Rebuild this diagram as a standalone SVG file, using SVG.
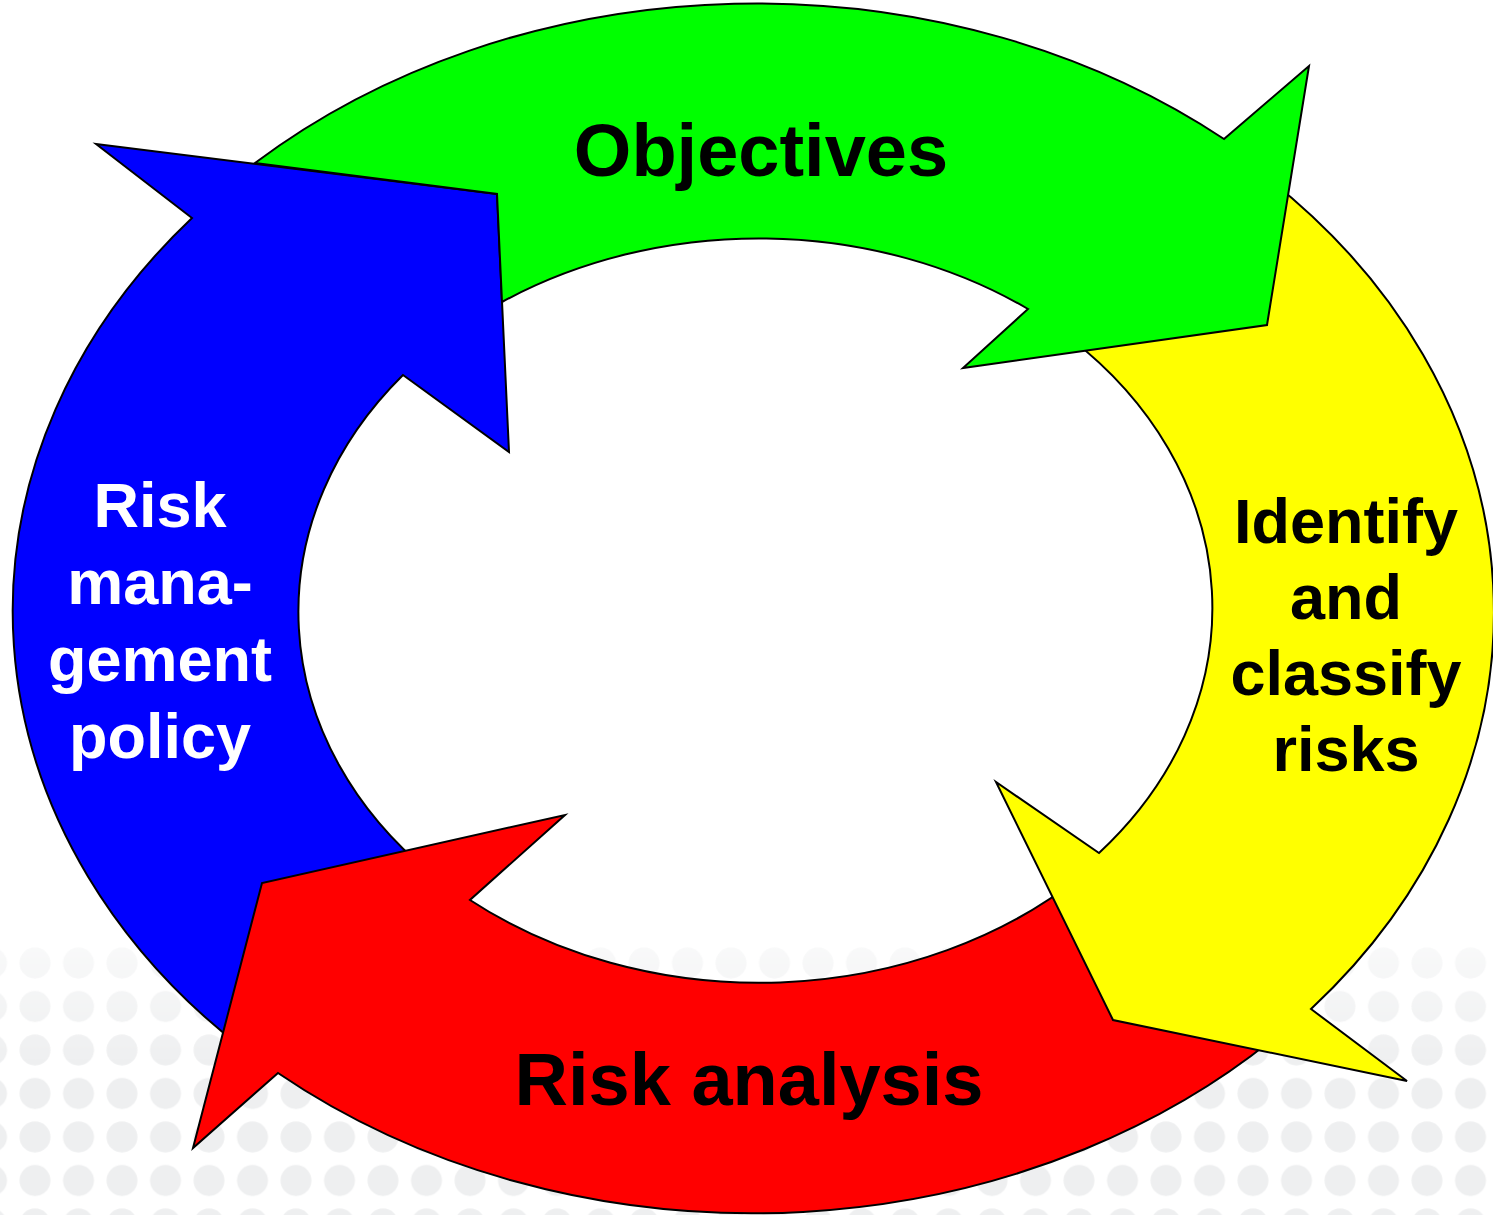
<svg xmlns="http://www.w3.org/2000/svg" width="1493" height="1215" viewBox="0 0 1493 1215">
  <defs>
    <style>
      .arrow { stroke: #000; stroke-width: 2; stroke-linejoin: miter; }
      .label { font-family: "Liberation Sans", Arial, Helvetica, sans-serif; font-weight: bold; text-anchor: middle; }
      .dark { fill: #000; }
      .light { fill: #fff; }
    </style>
    <!-- dotted backdrop along the bottom of the page -->
    <pattern id="dots" x="-30.25" y="941.25" width="43.5" height="43.5" patternUnits="userSpaceOnUse">
      <circle cx="21.75" cy="21.75" r="15.5" fill="#eeeff0"/>
    </pattern>
    <linearGradient id="fadeGrad" x1="0" y1="941" x2="0" y2="1065" gradientUnits="userSpaceOnUse">
      <stop offset="0" stop-color="#fff" stop-opacity="0.35"/>
      <stop offset="1" stop-color="#fff" stop-opacity="1"/>
    </linearGradient>
    <mask id="fade" maskUnits="userSpaceOnUse" x="0" y="941" width="1493" height="274">
      <rect x="0" y="941" width="1493" height="274" fill="url(#fadeGrad)"/>
    </mask>
  </defs>

  <rect x="0" y="0" width="1493" height="1215" fill="#fff"/>
  <rect x="0" y="941" width="1493" height="274" fill="url(#dots)" mask="url(#fade)"/>

  <!-- cycle arrows, drawn so that each head covers the tail of the next -->
  <g id="policy">
    <path class="arrow" fill="#0000ff"
          d="M 96,144 L 497,194 L 509,452 L 403,375 A 460,373 0 0 0 430,873 L 250,1054 A 740,603 0 0 1 192,218 Z"/>
    <text class="label light" font-size="63" x="160" y="527">Risk</text>
    <text class="label light" font-size="63" x="160" y="604">mana-</text>
    <text class="label light" font-size="63" x="160" y="681">gement</text>
    <text class="label light" font-size="63" x="160" y="758">policy</text>
  </g>

  <g id="analysis">
    <path class="arrow" fill="#ff0000"
          d="M 193,1148 L 262,883 L 565,815 L 470,900 A 460,373 0 0 0 1080,877 L 1300,1016 A 740,603 0 0 1 278,1073 Z"/>
    <text class="label dark" font-size="74" x="749" y="1105">Risk analysis</text>
  </g>

  <g id="identify">
    <path class="arrow" fill="#ffff00"
          d="M 1407,1081 L 1113,1020 L 996,782 L 1099,853 A 460,373 0 0 0 1070,338 L 1265,176 A 740,603 0 0 1 1311,1009 Z"/>
    <text class="label dark" font-size="63" x="1346" y="543">Identify</text>
    <text class="label dark" font-size="63" x="1346" y="619">and</text>
    <text class="label dark" font-size="63" x="1346" y="695">classify</text>
    <text class="label dark" font-size="63" x="1346" y="771">risks</text>
  </g>

  <g id="objectives">
    <path class="arrow" fill="#00ff00"
          d="M 255,163 A 740,603 0 0 1 1224,139 L 1309,66 L 1267,325 L 963,368 L 1028,309 A 460,373 0 0 0 502,302 L 497,194 Z"/>
    <text class="label dark" font-size="74" x="761" y="176">Objectives</text>
  </g>

  <!-- the cycle has no separate connector lines -->
  <g id="connectors"/>
</svg>
